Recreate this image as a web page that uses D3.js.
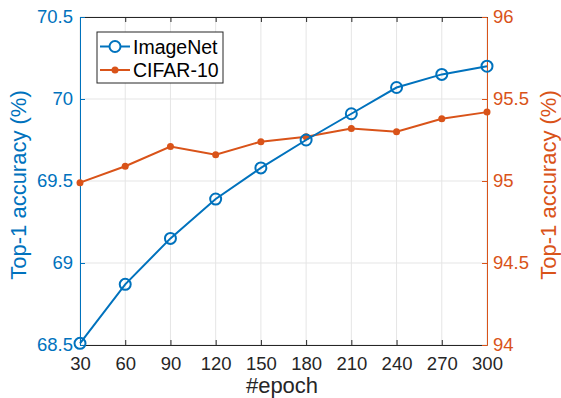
<!DOCTYPE html>
<html>
<head>
<meta charset="utf-8">
<script src="https://cdn.jsdelivr.net/npm/d3@7"></script>
<style>
  body { margin: 0; background: #fff; }
  text { font-family: "Liberation Sans", Arial, sans-serif; }
</style>
</head>
<body>
<script>
var epochs = [30, 60, 90, 120, 150, 180, 210, 240, 270, 300]
var imagenet = [68.51, 68.87, 69.15, 69.39, 69.58, 69.75, 69.91, 70.07, 70.15, 70.2]
var cifar = [94.99, 95.09, 95.21, 95.16, 95.24, 95.27, 95.32, 95.30, 95.38, 95.42]
var leftTicks = [68.5, 69, 69.5, 70, 70.5]
var rightTicks = [94, 94.5, 95, 95.5, 96]

var blue = "#0072BD", orange = "#D95319", dark = "#262626"

var margin = {top: 17, right: 74, bottom: 53, left: 80},
    W = 561, H = 398,
    width = W - margin.left - margin.right,
    height = H - margin.top - margin.bottom

var svg = d3.select("body").append("svg")
    .attr("width", W).attr("height", H)
var g = svg.append("g")
    .attr("transform", "translate(" + margin.left + "," + margin.top + ")")

var x = d3.scaleLinear().domain([30, 300]).range([0, width])
var yL = d3.scaleLinear().domain([68.5, 70.5]).range([height, 0])
var yR = d3.scaleLinear().domain([94, 96]).range([height, 0])

// grid
g.selectAll(".vgrid").data(epochs).enter().append("line")
    .attr("x1", d => x(d)).attr("x2", d => x(d))
    .attr("y1", 0).attr("y2", height)
    .style("stroke", "#e5e5e5").style("stroke-width", 1)
g.selectAll(".hgrid").data(leftTicks).enter().append("line")
    .attr("x1", 0).attr("x2", width)
    .attr("y1", d => yL(d)).attr("y2", d => yL(d))
    .style("stroke", "#e5e5e5").style("stroke-width", 1)

// axes
function styleAxis(sel, color) {
  sel.select(".domain").style("stroke", color).style("stroke-width", 1)
  sel.selectAll(".tick line").style("stroke", color)
  sel.selectAll(".tick text").style("fill", color)
    .style("font-size", "18.5px").style("font-family", "Liberation Sans, Arial, sans-serif")
}

var xBottom = g.append("g").attr("transform", "translate(0," + height + ")")
  .call(d3.axisBottom(x).tickValues(epochs).tickSizeInner(-5).tickSizeOuter(0).tickPadding(12))
styleAxis(xBottom, dark)

var xTop = g.append("g")
  .call(d3.axisTop(x).tickValues(epochs).tickSizeInner(-5).tickSizeOuter(0).tickFormat(""))
styleAxis(xTop, dark)

var yLeft = g.append("g")
  .call(d3.axisLeft(yL).tickValues(leftTicks).tickSizeInner(-5).tickSizeOuter(0).tickPadding(7)
    .tickFormat(d3.format("")))
styleAxis(yLeft, blue)

var yRight = g.append("g").attr("transform", "translate(" + width + ",0)")
  .call(d3.axisRight(yR).tickValues(rightTicks).tickSizeInner(-5).tickSizeOuter(0).tickPadding(6)
    .tickFormat(d3.format("")))
styleAxis(yRight, orange)

// lines
var lineL = d3.line().x((d, i) => x(epochs[i])).y(d => yL(d))
var lineR = d3.line().x((d, i) => x(epochs[i])).y(d => yR(d))

g.append("path").datum(cifar).attr("d", lineR)
  .style("fill", "none").style("stroke", orange).style("stroke-width", 2)
g.selectAll(".cdot").data(cifar).enter().append("circle")
  .attr("cx", (d, i) => x(epochs[i])).attr("cy", d => yR(d)).attr("r", 3.5)
  .style("fill", orange)

g.append("path").datum(imagenet).attr("d", lineL)
  .style("fill", "none").style("stroke", blue).style("stroke-width", 2)
g.selectAll(".idot").data(imagenet).enter().append("circle")
  .attr("cx", (d, i) => x(epochs[i])).attr("cy", d => yL(d)).attr("r", 5.5)
  .style("fill", "none").style("stroke", blue).style("stroke-width", 2)

// axis titles
svg.append("text").attr("x", 282).attr("y", 393)
  .attr("text-anchor", "middle").style("font-size", "22px").style("fill", dark)
  .text("#epoch")
svg.append("text").attr("transform", "translate(26,185) rotate(-90)")
  .attr("text-anchor", "middle").style("font-size", "22px").style("fill", blue)
  .text("Top-1 accuracy (%)")
svg.append("text").attr("transform", "translate(556,185) rotate(-90)")
  .attr("text-anchor", "middle").style("font-size", "22px").style("fill", orange)
  .text("Top-1 accuracy (%)")

// legend
var leg = svg.append("g").attr("transform", "translate(97,32)")
leg.append("rect").attr("width", 126).attr("height", 51)
  .style("fill", "#fff").style("stroke", dark).style("stroke-width", 1)
var items = [{name: "ImageNet", color: blue, open: true}, {name: "CIFAR-10", color: orange, open: false}]
items.forEach(function(it, i) {
  var yy = 14.5 + i * 23.5
  leg.append("line").attr("x1", 3).attr("x2", 33).attr("y1", yy).attr("y2", yy)
    .style("stroke", it.color).style("stroke-width", 2)
  leg.append("circle").attr("cx", 18).attr("cy", yy).attr("r", it.open ? 5.5 : 3.5)
    .style("fill", it.open ? "#fff" : it.color)
    .style("stroke", it.open ? it.color : "none").style("stroke-width", 2)
  leg.append("text").attr("x", 36).attr("y", yy + 7)
    .style("font-size", "19.5px").style("fill", "#000").text(it.name)
})
</script>
</body>
</html>
